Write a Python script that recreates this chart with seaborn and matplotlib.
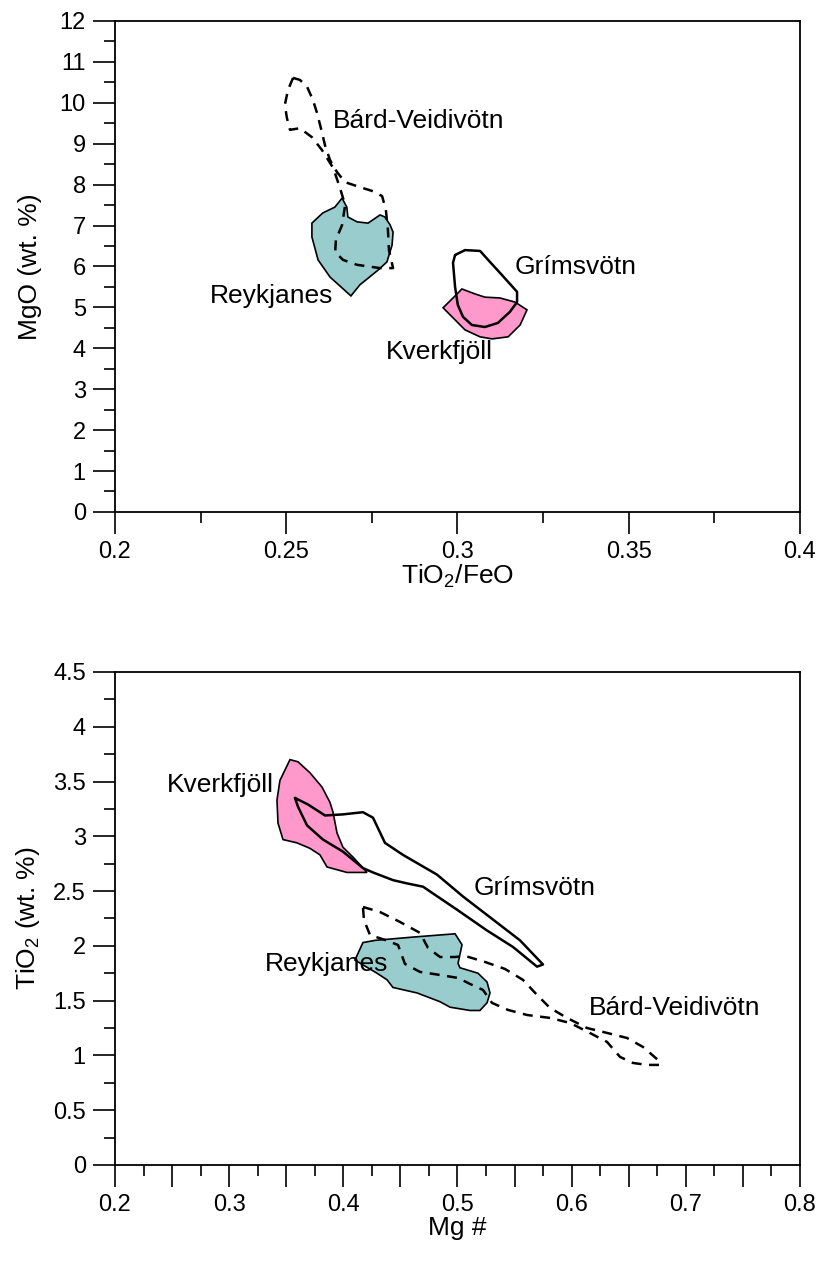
import numpy as np
import matplotlib
matplotlib.use("Agg")
import matplotlib.pyplot as plt
from matplotlib.ticker import MultipleLocator, FuncFormatter
import pandas as pd
import seaborn as sns

# --- MgO vs TiO2/FeO (upper panel) ---
bard_top_x = [0.2520, 0.2540, 0.2561, 0.2578, 0.2590, 0.2604, 0.2613, 0.2628, 0.2648, 0.2672,
              0.2715, 0.2753, 0.2780, 0.2791, 0.2797, 0.2800, 0.2812, 0.2774, 0.2707, 0.2666,
              0.2643, 0.2645, 0.2663, 0.2672, 0.2657, 0.2637, 0.2604, 0.2575, 0.2540, 0.2511,
              0.2502, 0.2496, 0.2505, 0.2520]
bard_top_y = [10.61, 10.56, 10.39, 10.07, 9.75, 9.29, 8.97, 8.60, 8.31, 8.06,
              7.94, 7.84, 7.72, 7.38, 6.89, 6.40, 5.96, 5.96, 6.04, 6.16,
              6.35, 6.65, 7.01, 7.50, 7.92, 8.41, 8.85, 9.16, 9.38, 9.34,
              9.63, 9.95, 10.31, 10.61]

reyk_top_x = [0.2663, 0.2677, 0.2680, 0.2707, 0.2739, 0.2774, 0.2788, 0.2803, 0.2812, 0.2809,
              0.2794, 0.2768, 0.2715, 0.2689, 0.2628, 0.2593, 0.2575, 0.2575, 0.2607, 0.2642]
reyk_top_y = [7.67, 7.45, 7.21, 7.09, 7.06, 7.26, 7.21, 7.02, 6.84, 6.52,
              6.11, 5.91, 5.55, 5.28, 5.74, 6.16, 6.72, 7.06, 7.31, 7.45]

grim_top_x = [0.2993, 0.3022, 0.3066, 0.3095, 0.3130, 0.3174, 0.3174, 0.3153, 0.3118, 0.3080,
              0.3042, 0.3016, 0.3001, 0.2993, 0.2987, 0.2993]
grim_top_y = [6.28, 6.40, 6.38, 6.11, 5.79, 5.38, 5.13, 4.89, 4.62, 4.52,
              4.57, 4.77, 5.06, 5.50, 6.09, 6.28]

kver_top_x = [0.3013, 0.3051, 0.3080, 0.3124, 0.3168, 0.3203, 0.3183, 0.3148, 0.3101, 0.3066,
              0.3022, 0.2958, 0.2987]
kver_top_y = [5.45, 5.33, 5.25, 5.23, 5.13, 4.94, 4.57, 4.28, 4.23, 4.28,
              4.45, 4.99, 5.23]

# --- TiO2 vs Mg # (lower panel) ---
kver_bot_x = [0.3533, 0.3603, 0.3708, 0.3813, 0.3883, 0.3910, 0.3945, 0.3997, 0.4085, 0.4208,
              0.4164, 0.4032, 0.3857, 0.3796, 0.3708, 0.3594, 0.3472, 0.3428, 0.3419, 0.3445]
kver_bot_y = [3.70, 3.68, 3.58, 3.45, 3.31, 3.22, 3.03, 2.90, 2.81, 2.67,
              2.67, 2.67, 2.72, 2.83, 2.89, 2.94, 2.97, 3.12, 3.33, 3.51]

grim_bot_x = [0.3577, 0.3691, 0.3840, 0.3997, 0.4172, 0.4260, 0.4365, 0.4523, 0.4821, 0.5049,
              0.5311, 0.5548, 0.5749, 0.5697, 0.5486, 0.5259, 0.4996, 0.4698, 0.4558, 0.4435,
              0.4260, 0.4172, 0.3997, 0.3822, 0.3682, 0.3603, 0.3577]
grim_bot_y = [3.35, 3.29, 3.19, 3.20, 3.22, 3.17, 2.94, 2.83, 2.65, 2.45,
              2.24, 2.05, 1.83, 1.81, 1.99, 2.14, 2.33, 2.54, 2.57, 2.60,
              2.67, 2.71, 2.86, 2.97, 3.10, 3.27, 3.35]

reyk_bot_x = [0.4278, 0.4611, 0.4979, 0.5040, 0.5005, 0.5022, 0.5180, 0.5259, 0.5285, 0.5259,
              0.5197, 0.5110, 0.4935, 0.4847, 0.4646, 0.4435, 0.4383, 0.4295, 0.4102, 0.4172]
reyk_bot_y = [2.05, 2.08, 2.11, 2.01, 1.84, 1.80, 1.75, 1.67, 1.57, 1.48,
              1.41, 1.41, 1.44, 1.49, 1.57, 1.62, 1.69, 1.75, 1.87, 2.03]

bard_bot_x = [0.4172, 0.4321, 0.4497, 0.4672, 0.4742, 0.4847, 0.4978, 0.5066, 0.5241, 0.5416,
              0.5574, 0.5697, 0.5811, 0.5960, 0.6135, 0.6310, 0.6485, 0.6625, 0.6757, 0.6774,
              0.6660, 0.6537, 0.6424, 0.6310, 0.6143, 0.5986, 0.5811, 0.5609, 0.5443, 0.5303,
              0.5224, 0.5110, 0.5005, 0.4847, 0.4672, 0.4540, 0.4479, 0.4365, 0.4234, 0.4181,
              0.4172]
bard_bot_y = [2.355, 2.309, 2.218, 2.118, 1.981, 1.898, 1.898, 1.908, 1.853, 1.789,
              1.689, 1.552, 1.433, 1.342, 1.250, 1.205, 1.159, 1.077, 0.958, 0.913,
              0.913, 0.931, 0.986, 1.123, 1.214, 1.296, 1.342, 1.369, 1.415, 1.479,
              1.597, 1.652, 1.707, 1.734, 1.762, 1.835, 2.008, 2.054, 2.099, 2.236,
              2.355]

teal = "#99CCCC"
pink = "#FF99CC"
label_fs = 19
text_fs = 19

sns.set_theme(style="ticks")
plt.rcParams['font.family'] = ['Liberation Sans', 'DejaVu Sans']
plt.rcParams['mathtext.default'] = 'regular'
plt.rcParams['text.color'] = 'black'
plt.rcParams['axes.labelcolor'] = 'black'

fig = plt.figure(figsize=(8.23, 12.65), dpi=100)
ax1 = fig.add_axes([0.1397, 0.5953, 0.8323, 0.3881])
ax2 = fig.add_axes([0.1397, 0.0791, 0.8323, 0.3897])


def outline(ax, xs, ys, dashed=False):
    df = pd.DataFrame({'x': xs, 'y': ys})
    sns.lineplot(data=df, x='x', y='y', sort=False, estimator=None, ax=ax,
                 color='black', lw=1.8, zorder=4,
                 dashes=False, linestyle=(0, (4, 3)) if dashed else '-')


# upper panel
ax1.fill(reyk_top_x, reyk_top_y, facecolor=teal, edgecolor='black', lw=1.2, zorder=2)
ax1.fill(kver_top_x, kver_top_y, facecolor=pink, edgecolor='black', lw=1.2, zorder=2)
outline(ax1, grim_top_x, grim_top_y)
outline(ax1, bard_top_x, bard_top_y, dashed=True)

ax1.text(0.2637, 9.55, 'Bárd-Veidivötn', fontsize=text_fs, va='center', ha='left')
ax1.text(0.2456, 5.28, 'Reykjanes', fontsize=text_fs, va='center', ha='center')
ax1.text(0.3346, 5.99, 'Grímsvötn', fontsize=text_fs, va='center', ha='center')
ax1.text(0.2946, 3.91, 'Kverkfjöll', fontsize=text_fs, va='center', ha='center')

ax1.set_xlim(0.2, 0.4)
ax1.set_ylim(0, 12)
ax1.xaxis.set_major_locator(MultipleLocator(0.05))
ax1.xaxis.set_minor_locator(MultipleLocator(0.025))
ax1.yaxis.set_major_locator(MultipleLocator(1))
ax1.yaxis.set_minor_locator(MultipleLocator(0.5))
ax1.xaxis.set_major_formatter(FuncFormatter(lambda v, p: f'{v:g}'))
ax1.set_xlabel('TiO$_2$/FeO', fontsize=label_fs, labelpad=0)
ax1.set_ylabel('MgO (wt. %)', fontsize=label_fs)

# lower panel
ax2.fill(kver_bot_x, kver_bot_y, facecolor=pink, edgecolor='black', lw=1.2, zorder=2)
ax2.fill(reyk_bot_x, reyk_bot_y, facecolor=teal, edgecolor='black', lw=1.2, zorder=2)
outline(ax2, grim_bot_x, grim_bot_y)
outline(ax2, bard_bot_x, bard_bot_y, dashed=True)

ax2.text(0.292, 3.47, 'Kverkfjöll', fontsize=text_fs, va='center', ha='center')
ax2.text(0.568, 2.53, 'Grímsvötn', fontsize=text_fs, va='center', ha='center')
ax2.text(0.385, 1.83, 'Reykjanes', fontsize=text_fs, va='center', ha='center')
ax2.text(0.690, 1.43, 'Bárd-Veidivötn', fontsize=text_fs, va='center', ha='center')

ax2.set_xlim(0.2, 0.8)
ax2.set_ylim(0, 4.5)
ax2.xaxis.set_major_locator(MultipleLocator(0.05))
ax2.xaxis.set_minor_locator(MultipleLocator(0.025))
ax2.yaxis.set_major_locator(MultipleLocator(0.5))
ax2.yaxis.set_minor_locator(MultipleLocator(0.25))
ax2.xaxis.set_major_formatter(
    FuncFormatter(lambda v, p: f'{v:.1f}' if abs(round(v * 10) - v * 10) < 1e-6 else ''))
ax2.yaxis.set_major_formatter(FuncFormatter(lambda v, p: f'{v:g}'))
ax2.set_xlabel('Mg #', fontsize=label_fs, labelpad=0)
ax2.set_ylabel('TiO$_2$ (wt. %)', fontsize=label_fs)

for ax in (ax1, ax2):
    for s in ax.spines.values():
        s.set_linewidth(1.3)
        s.set_color('black')
    ax.tick_params(which='major', direction='out', length=16, width=1.2,
                   labelsize=17, pad=5, colors='black')
    ax.tick_params(which='minor', direction='out', length=8, width=1.2, colors='black')
    ax.set_facecolor('white')
    ax.yaxis.set_label_coords(-0.107, 0.5)

fig.savefig('out.png', dpi=100, facecolor='white')
